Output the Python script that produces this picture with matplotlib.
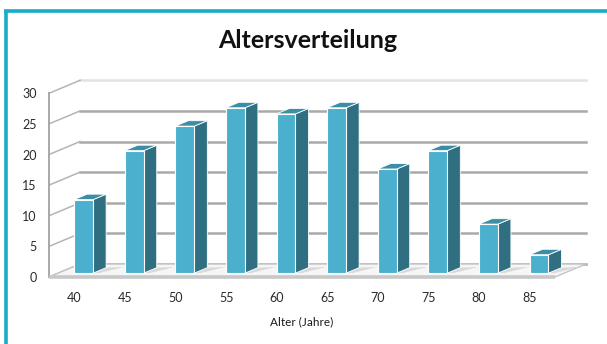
import matplotlib
matplotlib.use("Agg")
import matplotlib.pyplot as plt
from matplotlib.patches import Polygon
from matplotlib.lines import Line2D

# Age groups and number of people per group
ages = ["40", "45", "50", "55", "60", "65", "70", "75", "80", "85"]
counts = [12, 20, 24, 27, 26, 27, 17, 20, 8, 3]
y_ticks = [0, 5, 10, 15, 20, 25, 30]
title = "Altersverteilung"
x_title = "Alter (Jahre)"

plt.rcParams["font.family"] = ["Lato", "DejaVu Sans"]

W, H = 607, 344
fig = plt.figure(figsize=(W / 100, H / 100), dpi=100)
fig.patch.set_facecolor("white")

# front plane of the 3-D box
ax = fig.add_axes([49 / W, (H - 277) / H, 506 / W, 183.7 / H])
ax.set_xlim(-0.5, len(ages) - 0.5)
ax.set_ylim(0, 30)
ax.set_facecolor("none")
for s in ax.spines.values():
    s.set_visible(False)

# oblique depth offset (in data units of the front plane)
DX, DY = 0.613, 2.12


def p(x, v, f):
    return (x + DX * f, v + DY * f)


def poly(pts, **kw):
    ax.add_patch(Polygon(pts, closed=True, clip_on=False, **kw))


def line(a, b, **kw):
    ax.add_line(Line2D([a[0], b[0]], [a[1], b[1]], clip_on=False, **kw))


x_lo, x_hi = -0.5, len(ages) - 0.5

# floor
poly([p(x_lo, 0, 0), p(x_hi, 0, 0), p(x_hi, 0, 1), p(x_lo, 0, 1)],
     facecolor="#f6f6f6", edgecolor="#c4c4c4", linewidth=1.0, zorder=1)
line(p(x_lo, 0, 0), p(x_hi, 0, 0), color="#c8c8c8", linewidth=2.6, zorder=2,
     solid_capstyle="butt")

# back wall grid lines and left wall diagonals
for v in y_ticks:
    col = "#e2e2e2" if v == y_ticks[-1] else "#a9a9a9"
    line(p(x_lo, v, 1), p(x_hi, v, 1), color=col, linewidth=1.8, zorder=0.5)
    line(p(x_lo, v, 0), p(x_lo, v, 1), color="#b4b4b4", linewidth=1.1, zorder=0.6)
line(p(x_lo, 0, 0), p(x_lo, y_ticks[-1], 0), color="#a8a8a8", linewidth=1.4, zorder=0.7)

# bars
BW = 0.375
F0, F1 = 0.30, 0.72
front_c, side_c, top_c = "#4bb0cd", "#2f6f81", "#3b8ea5"
for k, v in enumerate(counts):
    x0, x1 = k - BW / 2, k + BW / 2
    # soft shadow on the floor
    poly([p(x1, 0, F0), p(x1, 0, F1), p(x1 + 0.32, 0, F1 + 0.05), p(x1 + 0.12, 0, F0)],
         facecolor="#d9d9d9", edgecolor="none", zorder=3)
    poly([p(x1, 0, F0), p(x1, 0, F1), p(x1, v, F1), p(x1, v, F0)],
         facecolor=side_c, edgecolor="white", linewidth=0.6, zorder=4)
    poly([p(x0, v, F0), p(x1, v, F0), p(x1, v, F1), p(x0, v, F1)],
         facecolor=top_c, edgecolor="white", linewidth=0.6, zorder=4)
    poly([p(x0, 0, F0), p(x1, 0, F0), p(x1, v, F0), p(x0, v, F0)],
         facecolor=front_c, edgecolor="white", linewidth=0.8, zorder=5)

# ticks
ax.set_xticks(range(len(ages)))
ax.set_xticklabels(ages)
ax.set_yticks(y_ticks)
ax.set_yticklabels([str(t) for t in y_ticks])
ax.tick_params(axis="x", length=0, pad=11, labelsize=9, labelcolor="#2a2a2a")
ax.tick_params(axis="y", length=0, pad=9, labelsize=9, labelcolor="#2a2a2a")
ax.set_xlabel(x_title, fontsize=8.5, color="#1a1a1a", labelpad=9)

fig.text(308 / W, 1 - 48 / H, title, ha="center", va="baseline",
         fontsize=18, fontweight="bold", color="#111111")

# frame border (top and left)
border = "#17adc6"
fig.add_artist(Line2D([4 / W, 1], [1 - 11 / H, 1 - 11 / H], color=border,
                      linewidth=2.6, transform=fig.transFigure, solid_capstyle="butt"))
fig.add_artist(Line2D([5.5 / W, 5.5 / W], [0, 1 - 9.7 / H], color=border,
                      linewidth=2.6, transform=fig.transFigure, solid_capstyle="butt"))

fig.savefig("out.png", dpi=100)
